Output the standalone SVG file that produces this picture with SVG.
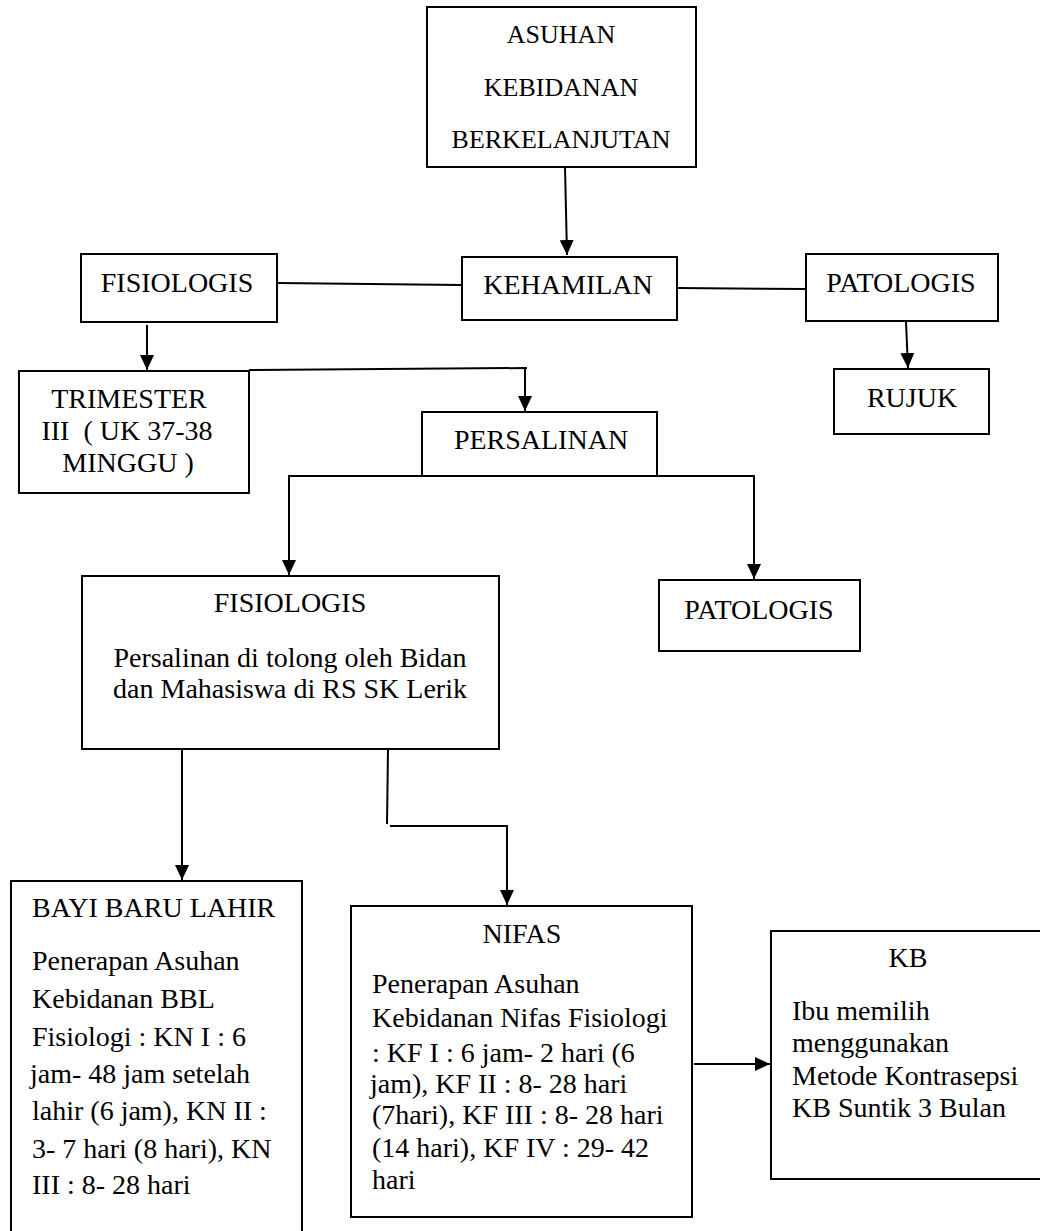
<svg xmlns="http://www.w3.org/2000/svg" width="1040" height="1231" viewBox="0 0 1040 1231" font-family="Liberation Serif, Tinos, Noto Serif, DejaVu Serif, serif">
<style>
rect{fill:#fff;stroke:#000;stroke-width:2}
text{font-size:28px;fill:#000;white-space:pre}
.c{text-anchor:middle}
.t{font-size:26px}
.ln{fill:none;stroke:#000;stroke-width:2}
</style>
<defs>
<marker id="ah" markerUnits="userSpaceOnUse" markerWidth="16" markerHeight="14" refX="15" refY="7" orient="auto">
<path d="M0,0 L15,7 L0,14 z" fill="#000"/>
</marker>
</defs>
<g id="connectors">
<path class="ln" d="M565,167 L567,255" marker-end="url(#ah)"/>
<path class="ln" d="M278,283 L461,285"/>
<path class="ln" d="M678,288 L806,289"/>
<path class="ln" d="M906,322 L908,368" marker-end="url(#ah)"/>
<path class="ln" d="M147,325 L147,370" marker-end="url(#ah)"/>
<path class="ln" d="M249,370 L527,368"/>
<path class="ln" d="M525,368 L525,411" marker-end="url(#ah)"/>
<path class="ln" d="M422,476 L289,476 L289,575" marker-end="url(#ah)"/>
<path class="ln" d="M657,476 L754,476 L754,579" marker-end="url(#ah)"/>
<path class="ln" d="M182,750 L182,880" marker-end="url(#ah)"/>
<path class="ln" d="M388,750 L387,824"/>
<path class="ln" d="M390,826 L507,826 L507,905" marker-end="url(#ah)"/>
<path class="ln" d="M694,1064 L770,1064" marker-end="url(#ah)"/>
</g>
<g id="asuhan">
<rect x="427" y="7" width="269" height="160"/>
<text class="c t" x="561" y="43">ASUHAN</text>
<text class="c t" x="561" y="96">KEBIDANAN</text>
<text class="c t" x="561" y="148">BERKELANJUTAN</text>
</g>
<g id="fisiologis1">
<rect x="81" y="254" width="196" height="68"/>
<text class="c" x="177" y="292">FISIOLOGIS</text>
</g>
<g id="kehamilan">
<rect x="462" y="257" width="215" height="63"/>
<text class="c" x="568" y="294">KEHAMILAN</text>
</g>
<g id="patologis1">
<rect x="806" y="254" width="192" height="67"/>
<text class="c" x="901" y="292">PATOLOGIS</text>
</g>
<g id="rujuk">
<rect x="834" y="369" width="155" height="65"/>
<text class="c" x="912" y="407">RUJUK</text>
</g>
<g id="trimester">
<rect x="19" y="371" width="230" height="122"/>
<text class="c" x="129" y="408">TRIMESTER</text>
<text class="c" x="127" y="440">III  ( UK 37-38</text>
<text class="c" x="128" y="472">MINGGU )</text>
</g>
<g id="persalinan">
<rect x="422" y="412" width="235" height="64"/>
<text class="c" x="541" y="449">PERSALINAN</text>
</g>
<g id="fisiologis2">
<rect x="82" y="576" width="417" height="173"/>
<text class="c" x="290" y="612">FISIOLOGIS</text>
<text class="c" x="290" y="667">Persalinan di tolong oleh Bidan</text>
<text class="c" x="290" y="698">dan Mahasiswa di RS SK Lerik</text>
</g>
<g id="patologis2">
<rect x="659" y="580" width="201" height="71"/>
<text class="c" x="759" y="619">PATOLOGIS</text>
</g>
<g id="bbl">
<rect x="11" y="881" width="291" height="370"/>
<text x="32" y="917">BAYI BARU LAHIR</text>
<text x="32" y="970">Penerapan Asuhan</text>
<text x="32" y="1008">Kebidanan BBL</text>
<text x="32" y="1046">Fisiologi : KN I : 6</text>
<text x="30" y="1083">jam- 48 jam setelah</text>
<text x="32" y="1120">lahir (6 jam), KN II :</text>
<text x="32" y="1158">3- 7 hari (8 hari), KN</text>
<text x="32" y="1194">III : 8- 28 hari</text>
</g>
<g id="nifas">
<rect x="351" y="906" width="341" height="311"/>
<text class="c" x="522" y="943">NIFAS</text>
<text x="372" y="993">Penerapan Asuhan</text>
<text x="372" y="1027">Kebidanan Nifas Fisiologi</text>
<text x="372" y="1062">: KF I : 6 jam- 2 hari (6</text>
<text x="370" y="1093">jam), KF II : 8- 28 hari</text>
<text x="372" y="1124">(7hari), KF III : 8- 28 hari</text>
<text x="372" y="1157">(14 hari), KF IV : 29- 42</text>
<text x="372" y="1189">hari</text>
</g>
<g id="kb">
<rect x="771" y="931" width="280" height="248"/>
<text class="c" x="908" y="967">KB</text>
<text x="792" y="1020">Ibu memilih</text>
<text x="792" y="1052">menggunakan</text>
<text x="792" y="1085">Metode Kontrasepsi</text>
<text x="792" y="1117">KB Suntik 3 Bulan</text>
</g>
</svg>
